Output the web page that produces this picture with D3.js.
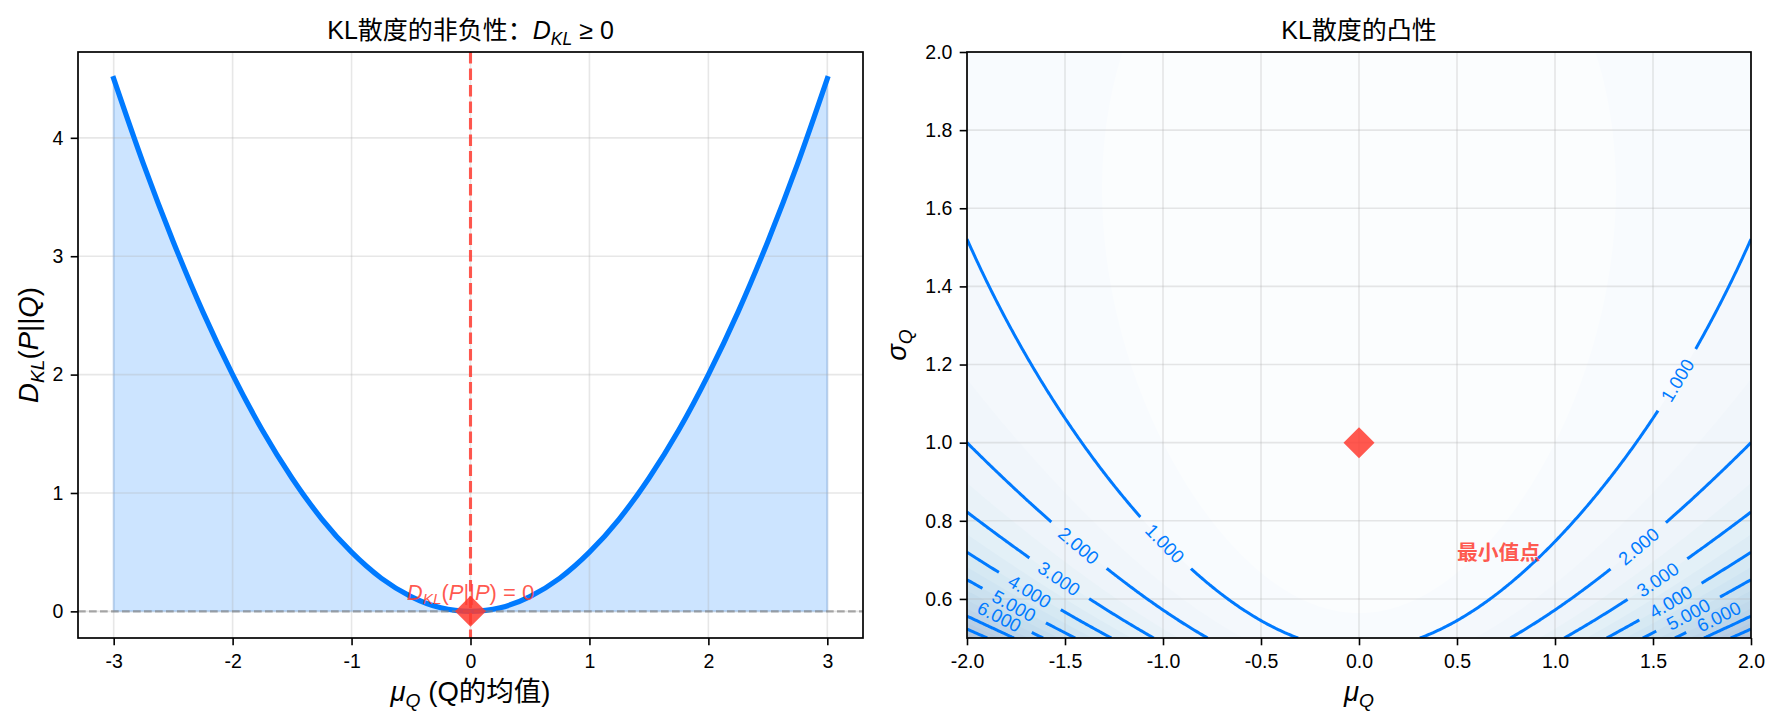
<!DOCTYPE html>
<html><head><meta charset="utf-8">
<script src="https://cdn.jsdelivr.net/npm/d3@7"></script>
<style>
body{margin:0;background:#fff;}
svg{display:block;}
</style></head><body>
<svg id="chart" width="1781" height="728"></svg>
<script>
// ---------------- data ----------------
// left panel: D_KL(P||Q) for Q = N(mu_Q, 1)
const muQ = [-3,-2.75,-2.5,-2.25,-2,-1.75,-1.5,-1.25,-1,-0.75,-0.5,-0.25,0,0.25,0.5,0.75,1,1.25,1.5,1.75,2,2.25,2.5,2.75,3];
const klCurve = [4.5,3.78,3.125,2.53,2.0,1.53,1.125,0.78,0.5,0.28,0.125,0.03,0,0.03,0.125,0.28,0.5,0.78,1.125,1.53,2.0,2.53,3.125,3.78,4.5];
const leftXTicks = [-3,-2,-1,0,1,2,3];
const leftYTicks = [0,1,2,3,4];
const leftXDomain = [-3.3, 3.3];
const leftYDomain = [-0.225, 4.725];

// right panel: KL(P||Q) surface, P = N(0,1), Q = N(mu, sigma)
const pMu = 0, pSigma = 1;
const muRange = [-2, 2];
const sigmaRange = [0.5, 2];
const rightXTicks = [-2,-1.5,-1,-0.5,0,0.5,1,1.5,2];
const rightYTicks = [0.6,0.8,1.0,1.2,1.4,1.6,1.8,2.0];
const fillLevels = [0,0.5,1,1.5,2,2.5,3,3.5,4,4.5,5,5.5,6,6.5,7,7.5,8,8.5,9];
const lineLevels = [1,2,3,4,5,6,7,8];
const labelLevels = [1,2,3,4,5,6,1,2,3,4,5,6];
const labelMu    = [-0.99,-1.43,-1.53,-1.675,-1.755,-1.835, 1.62,1.425,1.524,1.59,1.68,1.833];
const labelSigma = [0.744,0.738,0.655,0.6185,0.582,0.556, 1.16,0.734,0.653,0.595,0.563,0.5545];
const minPoint = [0, 1];
const minLabelPos = [0.5, 0.7];

// ---------------- style ----------------
const FONT = '"Liberation Sans","Noto Sans CJK SC",Arial,sans-serif';
const BLUE = '#007AFF', RED = '#FF3B30', RED_OP = 0.85;
const bluesStops = ["#f7fbff","#deebf7","#c6dbef","#9ecae1","#6baed6","#4292c6","#2171b5","#08519c","#08306b"];
const blues = d3.scaleLinear().domain(bluesStops.map((d,i)=>i/8)).range(bluesStops).interpolate(d3.interpolateRgb);
const FILL_ALPHA = 0.3;

const svg = d3.select('#chart').style('font-family', FONT);
const defs = svg.append('defs');

const TICK_FS = 19.5, LABEL_FS = 27.5, TITLE_FS = 25;

function addMath(text, parts, size){
  let shift = 0;
  parts.forEach(p=>{
    const ts = text.append('tspan').text(p.t);
    if (p.it) ts.attr('font-style','italic');
    const target = p.sub ? size*0.22 : 0;
    if (target !== shift){ ts.attr('dy', target - shift); shift = target; }
    ts.attr('font-size', p.sub ? size*0.7 : size);
  });
}

function styleAxis(g){
  g.attr('font-size', null).attr('font-family', null);
  g.select('.domain').remove();
  g.selectAll('.tick line').attr('stroke','#000').attr('stroke-width',1.6);
  g.selectAll('.tick text').attr('fill','#000').style('font-size', TICK_FS+'px').style('font-family', FONT);
}

function grid(g, x, y, xt, yt, box){
  const gg = g.append('g').attr('stroke','#b0b0b0').attr('stroke-opacity',0.3).attr('stroke-width',1.6);
  gg.selectAll('line.gx').data(xt).join('line').attr('x1',d=>x(d)).attr('x2',d=>x(d)).attr('y1',box.y0).attr('y2',box.y1);
  gg.selectAll('line.gy').data(yt).join('line').attr('y1',d=>y(d)).attr('y2',d=>y(d)).attr('x1',box.x0).attr('x2',box.x1);
}

function diamond(g, px, py){
  g.append('path').attr('d', d3.symbol().type(d3.symbolSquare).size(480)())
   .attr('transform', `translate(${px},${py}) rotate(45)`)
   .attr('fill', RED).attr('fill-opacity', RED_OP);
}

// ---------------- left panel ----------------
const LB = {x0:78, x1:863, y0:52, y1:638};
const xL = d3.scaleLinear().domain(leftXDomain).range([LB.x0, LB.x1]);
const yL = d3.scaleLinear().domain(leftYDomain).range([LB.y1, LB.y0]);
defs.append('clipPath').attr('id','clipL').append('rect')
  .attr('x',LB.x0).attr('y',LB.y0).attr('width',LB.x1-LB.x0).attr('height',LB.y1-LB.y0);
const gL = svg.append('g');
const pL = gL.append('g').attr('clip-path','url(#clipL)');
const curve = d3.curveCatmullRom.alpha(0);
const pts = muQ.map((m,i)=>[m, klCurve[i]]);
pL.append('path').datum(pts)
  .attr('d', d3.area().x(d=>xL(d[0])).y0(yL(0)).y1(d=>yL(d[1])).curve(curve))
  .attr('fill', BLUE).attr('fill-opacity',0.2)
  .attr('stroke', BLUE).attr('stroke-opacity',0.2).attr('stroke-width',2);
grid(pL, xL, yL, leftXTicks, leftYTicks, LB);
pL.append('path').datum(pts)
  .attr('d', d3.line().x(d=>xL(d[0])).y(d=>yL(d[1])).curve(curve))
  .attr('fill','none').attr('stroke', BLUE).attr('stroke-width',5.2).attr('stroke-linecap','square');
pL.append('line').attr('x1',xL(0)).attr('x2',xL(0)).attr('y1',LB.y0).attr('y2',LB.y1)
  .attr('stroke',RED).attr('stroke-opacity',RED_OP).attr('stroke-width',3.1).attr('stroke-dasharray','11.5,5');
pL.append('line').attr('x1',LB.x0).attr('x2',LB.x1).attr('y1',yL(0)).attr('y2',yL(0))
  .attr('stroke','#808080').attr('stroke-opacity',0.65).attr('stroke-width',2.1).attr('stroke-dasharray','7.7,3.3');
diamond(gL, xL(0), yL(0));
const annL = gL.append('text').attr('x', xL(0)).attr('y', yL(0.1)).attr('text-anchor','middle')
  .attr('fill', RED).attr('fill-opacity', RED_OP);
addMath(annL, [{t:'D',it:1},{t:'KL',it:1,sub:1},{t:'(',},{t:'P',it:1},{t:'||'},{t:'P',it:1},{t:') = 0'}], 22);

gL.append('rect').attr('x',LB.x0).attr('y',LB.y0).attr('width',LB.x1-LB.x0).attr('height',LB.y1-LB.y0)
  .attr('fill','none').attr('stroke','#000').attr('stroke-width',1.7);
gL.append('g').attr('transform',`translate(0,${LB.y1})`)
  .call(d3.axisBottom(xL).tickValues(leftXTicks).tickSize(7.3).tickPadding(9).tickFormat(d=>String(d))).call(styleAxis);
gL.append('g').attr('transform',`translate(${LB.x0},0)`)
  .call(d3.axisLeft(yL).tickValues(leftYTicks).tickSize(7.3).tickPadding(7.3).tickFormat(d=>String(d))).call(styleAxis);

const tL = gL.append('text').attr('x',(LB.x0+LB.x1)/2).attr('y',39).attr('text-anchor','middle').attr('fill','#000');
addMath(tL, [{t:'KL散度的非负性：'},{t:'D',it:1},{t:'KL',it:1,sub:1},{t:' ≥ 0'}], TITLE_FS);
const xlL = gL.append('text').attr('x',(LB.x0+LB.x1)/2).attr('y',701).attr('text-anchor','middle').attr('fill','#000');
addMath(xlL, [{t:'μ',it:1},{t:'Q',it:1,sub:1},{t:' (Q的均值)'}], LABEL_FS);
const ylL = gL.append('text').attr('transform',`translate(38,${(LB.y0+LB.y1)/2}) rotate(-90)`).attr('text-anchor','middle').attr('fill','#000');
addMath(ylL, [{t:'D',it:1},{t:'KL',it:1,sub:1},{t:'('},{t:'P',it:1},{t:'||'},{t:'Q',it:1},{t:')'}], LABEL_FS);

// ---------------- right panel ----------------
const RB = {x0:967, x1:1751, y0:52, y1:638};
const xR = d3.scaleLinear().domain(muRange).range([RB.x0, RB.x1]);
const yR = d3.scaleLinear().domain(sigmaRange).range([RB.y1, RB.y0]);
defs.append('clipPath').attr('id','clipR').append('rect')
  .attr('x',RB.x0).attr('y',RB.y0).attr('width',RB.x1-RB.x0).attr('height',RB.y1-RB.y0);

const NX = 401, NY = 301;
const values = new Array(NX*NY);
for (let j=0;j<NY;j++){
  const s = sigmaRange[0] + (sigmaRange[1]-sigmaRange[0])*j/(NY-1);
  for (let i=0;i<NX;i++){
    const m = muRange[0] + (muRange[1]-muRange[0])*i/(NX-1);
    values[i+j*NX] = Math.log(s/pSigma) + (pSigma*pSigma + (pMu-m)*(pMu-m))/(2*s*s) - 0.5;
  }
}
const gx = c => xR(muRange[0] + (c-0.5)*(muRange[1]-muRange[0])/(NX-1));
const gy = c => yR(sigmaRange[0] + (c-0.5)*(sigmaRange[1]-sigmaRange[0])/(NY-1));
const proj = d3.geoTransform({point: function(x,y){ this.stream.point(gx(x), gy(y)); }});
const geo = d3.geoPath(proj);
const contours = d3.contours().size([NX, NY]);

function bandColor(layer){
  const lo = fillLevels[0], hi = fillLevels[fillLevels.length-1];
  const c = d3.rgb(blues((layer-lo)/(hi-lo)));
  const a = FILL_ALPHA;
  return d3.rgb(255*(1-a)+c.r*a, 255*(1-a)+c.g*a, 255*(1-a)+c.b*a).formatHex();
}

const gR = svg.append('g');
const pR = gR.append('g').attr('clip-path','url(#clipR)');
pR.append('rect').attr('x',RB.x0).attr('y',RB.y0).attr('width',RB.x1-RB.x0).attr('height',RB.y1-RB.y0)
  .attr('fill', bandColor((fillLevels[0]+fillLevels[1])/2));
for (let k=1;k<fillLevels.length-1;k++){
  const t = fillLevels[k];
  pR.append('path').attr('d', geo(contours.contour(values, t)))
    .attr('fill', bandColor((t+fillLevels[k+1])/2));
}
grid(pR, xR, yR, rightXTicks, rightYTicks, RB);

// contour lines -> polylines in pixel space (drop the frame part of rings)
function isoLines(level){
  const mp = contours.contour(values, level);
  const eps = 1e-6;
  const inside = p => p[0] >= 0.5-eps && p[0] <= NX-0.5+eps && p[1] >= 0.5-eps && p[1] <= NY-0.5+eps;
  const lines = [];
  mp.coordinates.forEach(poly => poly.forEach(ring => {
    let r = ring.slice(0, ring.length-1);
    const b = r.findIndex(p=>!inside(p));
    if (b < 0){ lines.push(ring.map(p=>[gx(p[0]),gy(p[1])])); return; }
    r = r.slice(b).concat(r.slice(0,b));
    let cur = [];
    r.forEach(p=>{
      if (inside(p)) cur.push([gx(p[0]),gy(p[1])]);
      else { if (cur.length>1) lines.push(cur); cur = []; }
    });
    if (cur.length>1) lines.push(cur);
  }));
  return lines;
}
const lineSets = {};
lineLevels.forEach(L => lineSets[L] = isoLines(L));

// labels
const fmt = d3.format('.3f');
const labG = pR.append('g');
const labels = labelLevels.map((L,i)=>{
  const tx = xR(labelMu[i]), ty = yR(labelSigma[i]);
  let best = null, bd = Infinity;
  lineSets[L].forEach(line => line.forEach((p,k)=>{
    const d = (p[0]-tx)**2 + (p[1]-ty)**2;
    if (d < bd){ bd = d; best = {line, k}; }
  }));
  const ln = best.line, k = best.k;
  const a = ln[Math.max(0,k-4)], b = ln[Math.min(ln.length-1,k+4)];
  let ang = Math.atan2(b[1]-a[1], b[0]-a[0])*180/Math.PI;
  if (ang > 90) ang -= 180; if (ang < -90) ang += 180;
  return {L, x: ln[k][0], y: ln[k][1], ang};
});
const mask = defs.append('mask').attr('id','labMask').attr('maskUnits','userSpaceOnUse')
  .attr('x',0).attr('y',0).attr('width',1781).attr('height',728);
mask.append('rect').attr('x',0).attr('y',0).attr('width',1781).attr('height',728).attr('fill','#fff');
labels.forEach(l=>{
  const t = labG.append('text').attr('transform',`translate(${l.x},${l.y}) rotate(${l.ang})`)
    .attr('text-anchor','middle').attr('dy','0.36em').attr('fill',BLUE)
    .style('font-size','18.5px').text(fmt(l.L));
  const w = t.node().getComputedTextLength() + 26;
  mask.append('rect').attr('x',-w/2).attr('y',-11).attr('width',w).attr('height',22)
    .attr('transform',`translate(${l.x},${l.y}) rotate(${l.ang})`).attr('fill','#000');
});
const linesG = pR.insert('g', () => labG.node()).attr('mask','url(#labMask)');
lineLevels.forEach(L => lineSets[L].forEach(line=>{
  linesG.append('path').attr('d', d3.line()(line)).attr('fill','none')
    .attr('stroke',BLUE).attr('stroke-width',3).attr('stroke-linejoin','round');
}));

diamond(gR, xR(minPoint[0]), yR(minPoint[1]));
gR.append('text').attr('x', xR(minLabelPos[0])).attr('y', yR(minLabelPos[1]))
  .attr('fill', RED).attr('fill-opacity', RED_OP).attr('font-weight','bold')
  .style('font-size','20.8px').text('最小值点');

gR.append('rect').attr('x',RB.x0).attr('y',RB.y0).attr('width',RB.x1-RB.x0).attr('height',RB.y1-RB.y0)
  .attr('fill','none').attr('stroke','#000').attr('stroke-width',1.7);
gR.append('g').attr('transform',`translate(0,${RB.y1})`)
  .call(d3.axisBottom(xR).tickValues(rightXTicks).tickSize(7.3).tickPadding(9).tickFormat(d=>d.toFixed(1))).call(styleAxis);
gR.append('g').attr('transform',`translate(${RB.x0},0)`)
  .call(d3.axisLeft(yR).tickValues(rightYTicks).tickSize(7.3).tickPadding(7.3).tickFormat(d=>d.toFixed(1))).call(styleAxis);

const tR = gR.append('text').attr('x',(RB.x0+RB.x1)/2).attr('y',39).attr('text-anchor','middle').attr('fill','#000');
addMath(tR, [{t:'KL散度的凸性'}], TITLE_FS);
const xlR = gR.append('text').attr('x',(RB.x0+RB.x1)/2).attr('y',701).attr('text-anchor','middle').attr('fill','#000');
addMath(xlR, [{t:'μ',it:1},{t:'Q',it:1,sub:1}], LABEL_FS);
const ylR = gR.append('text').attr('transform',`translate(906,${(RB.y0+RB.y1)/2}) rotate(-90)`).attr('text-anchor','middle').attr('fill','#000');
addMath(ylR, [{t:'σ',it:1},{t:'Q',it:1,sub:1}], LABEL_FS);
</script>
</body></html>
